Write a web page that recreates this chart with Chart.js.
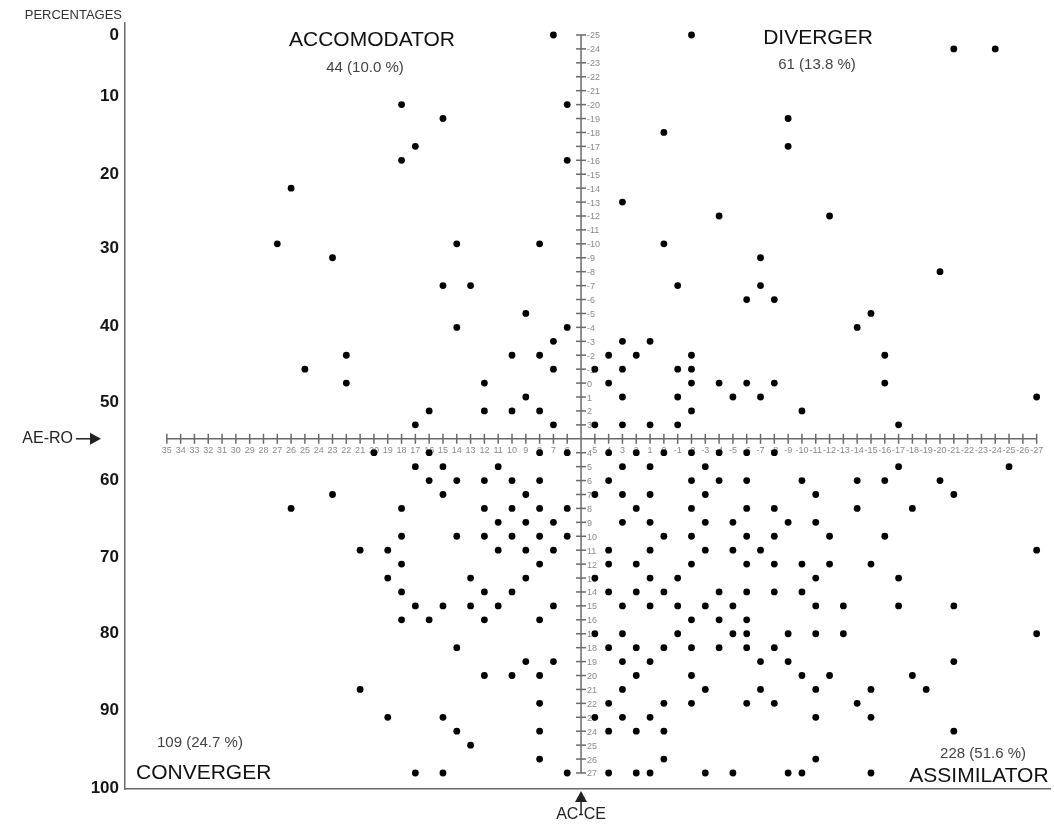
<!DOCTYPE html>
<html>
<head>
<meta charset="utf-8">
<script src="https://cdn.jsdelivr.net/npm/chart.js@4.4.1/dist/chart.umd.min.js"></script>
<style>
  html, body { margin: 0; padding: 0; background: #fff; }
  #wrap { width: 1054px; height: 828px; }
</style>
</head>
<body>
<div id="wrap"><canvas id="kolb"></canvas></div>
<script>
// Kolb grid, one dot per score pair: [AE-RO, AC-CE]
const accomodator = [
  [7,-25], [18,-20], [6,-20], [15,-19], [17,-17], [18,-16], [6,-16], [26,-14],
  [27,-10], [14,-10], [8,-10], [23,-9], [15,-7], [13,-7], [9,-5], [14,-4], [6,-4],
  [7,-3], [22,-2], [10,-2], [8,-2], [25,-1], [7,-1], [22,0], [12,0], [9,1],
  [16,2], [12,2], [10,2], [8,2], [17,3], [7,3]
];
const diverger = [
  [-2,-25], [-21,-24], [-24,-24], [-9,-19], [0,-18], [-9,-17], [3,-13], [-4,-12],
  [-12,-12], [0,-10], [-7,-9], [-20,-8], [-1,-7], [-7,-7], [-6,-6], [-8,-6],
  [-15,-5], [-14,-4], [3,-3], [1,-3], [4,-2], [2,-2], [-2,-2], [-16,-2],
  [5,-1], [3,-1], [-1,-1], [-2,-1], [4,0], [-2,0], [-4,0], [-6,0], [-8,0], [-16,0],
  [3,1], [-1,1], [-5,1], [-7,1], [-27,1], [-2,2], [-10,2],
  [5,3], [3,3], [1,3], [-1,3], [-17,3]
];
const converger = [
  [20,4], [16,4], [8,4], [6,4], [17,5], [15,5], [11,5],
  [16,6], [14,6], [12,6], [10,6], [8,6], [23,7], [15,7], [9,7],
  [26,8], [18,8], [12,8], [10,8], [8,8], [6,8], [11,9], [9,9], [7,9],
  [18,10], [14,10], [12,10], [10,10], [8,10], [6,10],
  [21,11], [19,11], [11,11], [9,11], [7,11], [18,12], [8,12],
  [19,13], [13,13], [9,13], [18,14], [12,14], [10,14],
  [17,15], [15,15], [13,15], [11,15], [7,15], [18,16], [16,16], [12,16], [8,16],
  [14,18], [9,19], [7,19], [12,20], [10,20], [8,20], [21,21], [8,22],
  [19,23], [15,23], [14,24], [8,24], [13,25], [8,26], [17,27], [15,27], [6,27]
];
const assimilator = [
  [4,4], [2,4], [0,4], [-2,4], [-4,4], [-6,4], [-8,4],
  [3,5], [1,5], [-3,5], [-17,5], [-25,5],
  [4,6], [-2,6], [-4,6], [-6,6], [-10,6], [-14,6], [-16,6], [-20,6],
  [5,7], [3,7], [1,7], [-3,7], [-11,7], [-21,7],
  [2,8], [-2,8], [-6,8], [-8,8], [-14,8], [-18,8],
  [3,9], [1,9], [-3,9], [-5,9], [-9,9], [-11,9],
  [0,10], [-2,10], [-6,10], [-8,10], [-12,10], [-16,10],
  [4,11], [1,11], [-3,11], [-5,11], [-7,11], [-27,11],
  [4,12], [2,12], [-2,12], [-6,12], [-8,12], [-10,12], [-12,12], [-15,12],
  [5,13], [1,13], [-1,13], [-11,13], [-17,13],
  [4,14], [2,14], [0,14], [-4,14], [-6,14], [-8,14], [-10,14],
  [3,15], [1,15], [-1,15], [-3,15], [-5,15], [-11,15], [-13,15], [-17,15], [-21,15],
  [-2,16], [-4,16], [-6,16],
  [5,17], [3,17], [-1,17], [-5,17], [-6,17], [-9,17], [-11,17], [-13,17], [-27,17],
  [4,18], [2,18], [0,18], [-2,18], [-4,18], [-6,18], [-8,18],
  [3,19], [1,19], [-7,19], [-9,19], [-21,19],
  [2,20], [-2,20], [-10,20], [-12,20], [-18,20],
  [3,21], [-3,21], [-7,21], [-11,21], [-15,21], [-19,21],
  [4,22], [0,22], [-2,22], [-6,22], [-8,22], [-14,22],
  [5,23], [3,23], [1,23], [-11,23], [-15,23],
  [4,24], [2,24], [0,24], [-21,24],
  [0,26], [-11,26],
  [4,27], [2,27], [1,27], [-3,27], [-5,27], [-9,27], [-10,27], [-15,27]
];

const quadrantNames = ['ACCOMODATOR', 'DIVERGER', 'CONVERGER', 'ASSIMILATOR'];
const quadrantCounts = [44, 61, 109, 228];

const range = (a, b) => {
  const out = [];
  const step = a < b ? 1 : -1;
  for (let v = a; v !== b + step; v += step) out.push(v);
  return out;
};
const aeRoTicks = range(35, -27);
const acCeTicks = range(-25, 27);

// percentile scale on the left, placed against the AC-CE scores
const pctLabels = [0, 10, 20, 30, 40, 50, 60, 70, 80, 90, 100];
const pctAtAcCe = [-25, -20.6, -15, -9.7, -4.1, 1.4, 6.0, 11.5, 17.0, 22.5, 28.1];

// the cross sits between 6|5 on AE-RO and between 3|4 on AC-CE, taking one step each
const toX = v => (v <= 5 ? v - 1 : v);
const toY = v => (v >= 4 ? v + 1 : v);
const CROSS_X = 5;
const CROSS_Y = 4;

const total = quadrantCounts.reduce((a, b) => a + b, 0);
const countText = n => `${n} (${(n / total * 100).toFixed(1)} %)`;

const FONT = 'Arial, "Liberation Sans", sans-serif';
const AXIS_GREY = '#6a6a6a';

const toPoints = list => list.map(([ae, ac]) => ({ x: toX(ae), y: toY(ac) }));

const crossAxes = {
  id: 'crossAxes',
  beforeDatasetsDraw(chart) {
    const { ctx, scales: { x, y } } = chart;
    const cx = x.getPixelForValue(CROSS_X);
    const cy = y.getPixelForValue(CROSS_Y);
    ctx.save();
    ctx.strokeStyle = AXIS_GREY;
    ctx.lineWidth = 1.5;
    ctx.fillStyle = '#8a8a8a';
    ctx.font = `9px ${FONT}`;

    // AC-CE (vertical)
    const yTop = y.getPixelForValue(toY(acCeTicks[0]));
    const yBot = y.getPixelForValue(toY(acCeTicks[acCeTicks.length - 1]));
    ctx.beginPath();
    ctx.moveTo(cx, yTop);
    ctx.lineTo(cx, yBot);
    ctx.stroke();
    ctx.textAlign = 'left';
    ctx.textBaseline = 'middle';
    acCeTicks.forEach(v => {
      const py = y.getPixelForValue(toY(v));
      ctx.beginPath();
      ctx.moveTo(cx - 5, py);
      ctx.lineTo(cx + 5, py);
      ctx.stroke();
      ctx.fillText(String(v), cx + 6, py + 1);
    });

    // AE-RO (horizontal)
    const xL = x.getPixelForValue(toX(aeRoTicks[0]));
    const xR = x.getPixelForValue(toX(aeRoTicks[aeRoTicks.length - 1]));
    ctx.beginPath();
    ctx.moveTo(xL, cy);
    ctx.lineTo(xR, cy);
    ctx.stroke();
    ctx.textAlign = 'center';
    ctx.textBaseline = 'top';
    aeRoTicks.forEach(v => {
      const px = x.getPixelForValue(toX(v));
      ctx.beginPath();
      ctx.moveTo(px, cy - 5);
      ctx.lineTo(px, cy + 5);
      ctx.stroke();
      ctx.fillText(String(v), px, cy + 7);
    });
    ctx.restore();
  }
};

const gridTexts = {
  id: 'gridTexts',
  afterDraw(chart) {
    const { ctx, chartArea: ca, scales: { x, y } } = chart;
    const cx = x.getPixelForValue(CROSS_X);
    const cy = y.getPixelForValue(CROSS_Y);
    ctx.save();
    ctx.textBaseline = 'middle';

    ctx.fillStyle = '#333';
    ctx.font = `13px ${FONT}`;
    ctx.textAlign = 'right';
    ctx.fillText('PERCENTAGES', ca.left - 3, 15);

    const names = [
      { t: quadrantNames[0], x: 372, y: 40, a: 'center' },
      { t: quadrantNames[1], x: 818, y: 38, a: 'center' },
      { t: quadrantNames[2], x: 136, y: 773, a: 'left' },
      { t: quadrantNames[3], x: ca.right - 2, y: 776, a: 'right' }
    ];
    const counts = [
      { x: 365, y: 68, a: 'center' },
      { x: 817, y: 65, a: 'center' },
      { x: 157, y: 743, a: 'left' },
      { x: 1026, y: 754, a: 'right' }
    ];
    ctx.fillStyle = '#111';
    ctx.font = `21px ${FONT}`;
    names.forEach(n => { ctx.textAlign = n.a; ctx.fillText(n.t, n.x, n.y); });
    ctx.fillStyle = '#444';
    ctx.font = `15px ${FONT}`;
    counts.forEach((c, i) => { ctx.textAlign = c.a; ctx.fillText(countText(quadrantCounts[i]), c.x, c.y); });

    // AE-RO pointer
    ctx.fillStyle = '#222';
    ctx.strokeStyle = '#222';
    ctx.font = `16px ${FONT}`;
    ctx.textAlign = 'right';
    ctx.fillText('AE-RO', 73, cy);
    ctx.lineWidth = 1.5;
    ctx.beginPath();
    ctx.moveTo(76, cy);
    ctx.lineTo(92, cy);
    ctx.stroke();
    ctx.beginPath();
    ctx.moveTo(101, cy);
    ctx.lineTo(90, cy - 6);
    ctx.lineTo(90, cy + 6);
    ctx.closePath();
    ctx.fill();

    // AC-CE pointer
    ctx.textAlign = 'center';
    ctx.fillText('AC-CE', cx, 815);
    ctx.beginPath();
    ctx.moveTo(cx, 800);
    ctx.lineTo(cx, 815);
    ctx.stroke();
    ctx.beginPath();
    ctx.moveTo(cx, ca.bottom + 2);
    ctx.lineTo(cx - 6, ca.bottom + 13);
    ctx.lineTo(cx + 6, ca.bottom + 13);
    ctx.closePath();
    ctx.fill();
    ctx.restore();
  }
};

const dotStyle = {
  pointRadius: 3.4,
  pointHoverRadius: 3.4,
  pointBackgroundColor: '#000',
  pointBorderWidth: 0,
  showLine: false
};

new Chart(document.getElementById('kolb'), {
  type: 'scatter',
  data: {
    datasets: [
      { label: quadrantNames[0], data: toPoints(accomodator), ...dotStyle },
      { label: quadrantNames[1], data: toPoints(diverger), ...dotStyle },
      { label: quadrantNames[2], data: toPoints(converger), ...dotStyle },
      { label: quadrantNames[3], data: toPoints(assimilator), ...dotStyle }
    ]
  },
  options: {
    responsive: true,
    maintainAspectRatio: false,
    animation: false,
    layout: { padding: { left: 0, right: 0, top: 23, bottom: 39 } },
    plugins: {
      legend: { display: false },
      tooltip: { enabled: false }
    },
    scales: {
      x: { type: 'linear', reverse: true, min: -29.01, max: 38.03, display: false },
      y: { type: 'linear', reverse: true, min: -25.86, max: 29.15, display: false },
      pct: {
        type: 'linear',
        position: 'left',
        reverse: true,
        bounds: 'data',
        min: -25.86,
        max: 29.15,
        afterBuildTicks: s => { s.ticks = pctAtAcCe.map(v => ({ value: toY(v) })); },
        afterFit: s => { s.width = 125; },
        grid: { display: false, drawTicks: false },
        border: { color: AXIS_GREY, width: 1.5 },
        ticks: {
          autoSkip: false,
          padding: 6,
          color: '#151515',
          font: { family: FONT, size: 17, weight: 'bold' },
          callback: (val, i) => pctLabels[i]
        }
      },
      xb: {
        type: 'linear',
        position: 'bottom',
        min: 0,
        max: 1,
        afterFit: s => { s.height = 0; },
        grid: { display: false },
        border: { color: AXIS_GREY, width: 1.5 },
        ticks: { display: false }
      }
    }
  },
  plugins: [crossAxes, gridTexts]
});
</script>
</body>
</html>
